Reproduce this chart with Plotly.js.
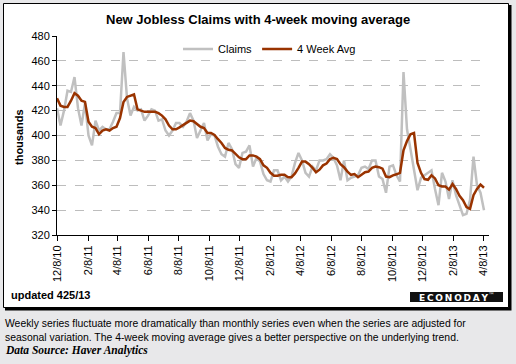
<!DOCTYPE html>
<html>
<head>
<meta charset="utf-8">
<script src="https://cdn.plot.ly/plotly-3.0.1.min.js"></script>
<style>
  html, body { margin: 0; padding: 0; background: #e8e8ea; }
  #chart { width: 516px; height: 364px; }
</style>
</head>
<body>
<div id="chart"></div>
<script>
// ---- data ----
const startDate = '2010-12-08';   // first weekly observation
const claims = [
  422, 408, 420, 436, 435, 447, 422, 408, 426, 400,
  392, 412, 404, 407, 405, 405, 411, 418, 418, 467,
  430, 416, 423, 420, 421, 412, 416, 421, 420, 412,
  413, 404, 400, 404, 410, 410, 407, 411, 418, 412,
  398, 404, 410, 396, 401, 400, 391, 385, 383, 394,
  389, 377, 374, 386, 387, 392, 375, 382, 379, 369,
  364, 363, 372, 372, 364, 367, 363, 367, 378, 386,
  380, 370, 367, 375, 372, 380, 380, 381, 385, 382,
  376, 364, 380, 364, 366, 367, 368, 374, 375, 373,
  380, 380, 367, 365, 354, 375, 376, 368, 363, 451,
  405, 389, 372, 356, 366, 368, 370, 372, 357, 344,
  370, 363, 349, 364, 352, 344, 336, 337, 348, 383,
  360, 354, 340
];
const avg4 = [
  430, 424, 423, 423, 428, 434, 432, 428, 427, 411,
  407, 406, 401, 404, 405, 404, 406, 407, 414, 427,
  431, 432, 433, 421, 420, 419, 419, 419, 419, 418,
  416, 413, 408, 405, 405, 406.5, 408.5, 410.5, 412, 411.5,
  409, 407, 406, 402, 402, 400.5, 397, 394, 390, 388.5,
  388, 385, 382.5, 381, 381, 384, 384, 383, 381, 376,
  374, 370, 367.6, 367.6, 368.4, 368.4, 366.5, 366.5, 369.5, 374,
  379, 379, 377, 374, 370.5, 372.5, 376, 377.5, 381, 382,
  381, 377, 374.5, 371, 368.4, 369, 366.5, 368.5, 370.5, 371,
  374, 375, 374.5, 373.3, 367, 366.5, 368, 368.8, 370, 388,
  395.5, 401, 402, 378, 370, 365, 364.4, 368, 365.5, 360,
  359, 359, 356.5, 361, 357, 351.5, 348, 342.4, 341, 352,
  357, 360.5, 358
];
const tickDates = ['2010-12-08','2011-02-08','2011-04-08','2011-06-08','2011-08-08',
  '2011-10-08','2011-12-08','2012-02-08','2012-04-08','2012-06-08','2012-08-08',
  '2012-10-08','2012-12-08','2013-02-08','2013-04-08'];
const tickLabels = ['12/8/10','2/8/11','4/8/11','6/8/11','8/8/11','10/8/11','12/8/11',
  '2/8/12','4/8/12','6/8/12','8/8/12','10/8/12','12/8/12','2/8/13','4/8/13'];
const seriesNames = ['Claims', '4 Week Avg'];

// weekly dates
const dates = [];
{
  const d0 = new Date(startDate + 'T00:00:00Z');
  for (let i = 0; i < claims.length; i++) {
    const d = new Date(d0.getTime() + i * 7 * 86400000);
    dates.push(d.toISOString().slice(0, 10));
  }
}

// ---- geometry helpers (pixel -> paper) ----
const W = 516, H = 364;
const L = 57, R = 489, T = 36, B = 235;
const px = x => (x - L) / (R - L);
const py = y => (B - y) / (B - T);

const FONT = 'Liberation Sans, Arial, sans-serif';

const traces = [
  { x: dates, y: claims, name: seriesNames[0], type: 'scatter', mode: 'lines',
    line: { color: '#c0c0c0', width: 2.5 } },
  { x: dates, y: avg4, name: seriesNames[1], type: 'scatter', mode: 'lines',
    line: { color: '#993300', width: 2.5 } }
];

const ann = (o) => Object.assign({ xref: 'paper', yref: 'paper', showarrow: false }, o);

const layout = {
  width: W, height: H,
  paper_bgcolor: '#e8e8ea',
  plot_bgcolor: '#ffffff',
  margin: { l: L, r: W - R, t: T, b: H - B, pad: 0 },
  font: { family: FONT, size: 11, color: '#000000' },
  showlegend: true,
  legend: {
    orientation: 'h', x: px(178), y: py(49), xanchor: 'left', yanchor: 'middle',
    bgcolor: 'rgba(0,0,0,0)', borderwidth: 0, font: { size: 11, color: '#000' },
    itemwidth: 30, tracegroupgap: 0
  },
  xaxis: {
    type: 'date', range: ['2010-12-08', '2013-04-20'],
    tickmode: 'array', tickvals: tickDates, ticktext: tickLabels,
    tickangle: -90, ticks: 'outside', ticklen: 5, tickcolor: '#000', tickwidth: 1,
    showline: true, linecolor: '#000', linewidth: 1, showgrid: false, zeroline: false,
    tickfont: { size: 11, color: '#000' }, fixedrange: true
  },
  yaxis: {
    range: [320, 480], tick0: 320, dtick: 20,
    ticks: 'outside', ticklen: 4, tickcolor: '#000', tickwidth: 1,
    showline: true, linecolor: '#000', linewidth: 1,
    showgrid: true, gridcolor: '#bdbdbd', griddash: 'dash', gridwidth: 1,
    zeroline: false, tickfont: { size: 11, color: '#000' }, fixedrange: true
  },
  shapes: [
    // shadow of the white panel
    { type: 'rect', xref: 'paper', yref: 'paper', layer: 'below',
      x0: px(5), x1: px(511.5), y0: py(310.5), y1: py(5),
      fillcolor: '#000', line: { width: 0 } },
    // white panel
    { type: 'rect', xref: 'paper', yref: 'paper', layer: 'below',
      x0: px(3.5), x1: px(508.5), y0: py(307.5), y1: py(3.5),
      fillcolor: '#ffffff', line: { color: '#000', width: 1 } },
    // Econoday badge
    { type: 'rect', xref: 'paper', yref: 'paper', layer: 'above',
      x0: px(410), x1: px(503), y0: py(302), y1: py(292),
      fillcolor: '#111', line: { width: 0 } }
  ],
  annotations: [
    ann({ x: px(258), y: py(19.5), xanchor: 'center', yanchor: 'middle',
      text: '<b>New Jobless Claims with 4-week moving average</b>',
      font: { size: 13, color: '#000' } }),
    ann({ x: px(19), y: py(137), xanchor: 'center', yanchor: 'middle', textangle: -90,
      text: '<b>thousands</b>', font: { size: 11, color: '#000' } }),
    ann({ x: px(9), y: py(295), xanchor: 'left', yanchor: 'middle',
      text: '<b>updated 425/13</b>', font: { size: 11, color: '#000' } }),
    ann({ x: px(456), y: py(297), xanchor: 'center', yanchor: 'middle',
      text: '<b>E\u2009C\u2009O\u2009N\u2009O\u2009D\u2009A\u2009Y</b><sup>\u2122</sup>',
      font: { size: 9, color: '#ffffff', family: 'DejaVu Sans, sans-serif' } }),
    ann({ x: px(3), y: py(323), xanchor: 'left', yanchor: 'middle',
      text: 'Weekly series fluctuate more dramatically than monthly series even when the series are adjusted for',
      font: { size: 10.4, color: '#000' } }),
    ann({ x: px(3), y: py(337), xanchor: 'left', yanchor: 'middle',
      text: 'seasonal variation. The 4-week moving average gives a better perspective on the underlying trend.',
      font: { size: 10.4, color: '#000' } }),
    ann({ x: px(3), y: py(350), xanchor: 'left', yanchor: 'middle',
      text: '<b><i>Data Source: Haver Analytics</i></b>',
      font: { size: 11.5, color: '#000', family: 'Liberation Serif, Times New Roman, serif' } })
  ]
};

Plotly.newPlot('chart', traces, layout, { staticPlot: true, displayModeBar: false });
</script>
</body>
</html>
